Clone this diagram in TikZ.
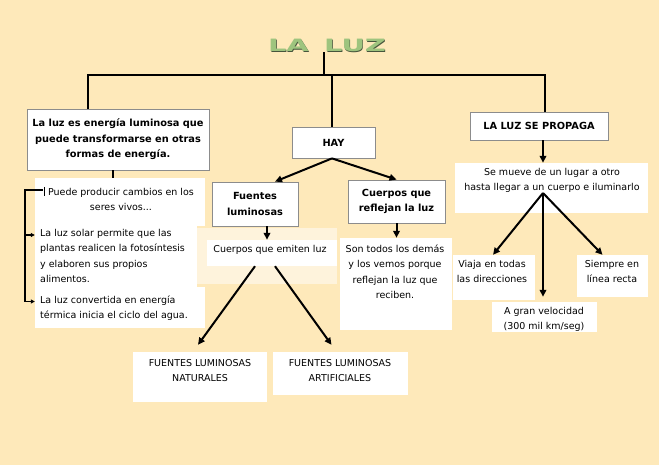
\documentclass[tikz,border=0pt]{standalone}
\usepackage{fontspec}
\setmainfont{DejaVu Sans}
\usepackage{tikz}
\usetikzlibrary{arrows.meta}
\usetikzlibrary{positioning}
\definecolor{ColBg}{RGB}{254,233,186}
\definecolor{ColCream}{RGB}{254,243,220}
\definecolor{ColBorder}{RGB}{140,140,140}
\definecolor{ColTitle}{RGB}{158,196,126}
\definecolor{ColTitleDark}{RGB}{70,85,60}
\tikzstyle{TitleGraph}=[inner sep=0pt,font=\fontsize{17}{17}\selectfont\bfseries,xscale=1.7,transform shape]
\tikzstyle{BoxGraph}=[draw=ColBorder,fill=white,line width=.8pt,inner sep=0pt,
font=\fontsize{9.8}{15.5}\selectfont\bfseries,align=center]
\tikzstyle{WhiteGraph}=[fill=white,inner sep=0pt]
\tikzstyle{TextGraph}=[inner sep=0pt,font=\fontsize{9.5}{15.5}\selectfont,align=center,anchor=base]
\tikzstyle{EdgeGraph}=[line width=2pt]
\tikzstyle{ArrowGraph}=[EdgeGraph,-{Triangle[length=7pt,width=6.5pt]}]
\tikzstyle{BracketGraph}=[line width=1.3pt,-{Triangle[length=4pt,width=4pt]}]
\begin{document}
\begin{tikzpicture}[x=1pt,y=-1pt]
        \fill[ColBg](0,0)rectangle(659,465);
        \useasboundingbox(0,0)rectangle(659,465);
        \fill[ColCream](197,228)rectangle(337,284);
        % title
        \node[TitleGraph,text=ColTitleDark](titleb)at(327.7,46.2){LA\hspace{9pt}LUZ};
        \node[TitleGraph,text=ColTitle](title)at(327,45.5){LA\hspace{9pt}LUZ};
        % boxes
        \node[BoxGraph,minimum width=182pt,minimum height=61pt](lbox)at(118,139.5){La luz es energía luminosa que\\puede transformarse en otras\\formas de energía.};
        \node[BoxGraph,minimum width=83pt,minimum height=31pt](hay)at(333.5,142.5){HAY};
        \node[BoxGraph,minimum width=86pt,minimum height=44pt](fue)at(255,204){Fuentes\\luminosas};
        \node[BoxGraph,minimum width=97pt,minimum height=43pt](cue)at(396.5,201.5){Cuerpos que\\reflejan la luz};
        \node[BoxGraph,minimum width=138pt,minimum height=28pt](prop)at(539,126){LA LUZ SE PROPAGA};
        % white boxes
        \node[WhiteGraph,minimum width=170pt,minimum height=48pt](puede)at(120,202){};
        \node[WhiteGraph,minimum width=162pt,minimum height=62pt](solar)at(116,257){};
        \node[WhiteGraph,minimum width=170pt,minimum height=41pt](conv)at(120,307.5){};
        \node[WhiteGraph,minimum width=130pt,minimum height=26pt](emi)at(272,253){};
        \node[WhiteGraph,minimum width=112pt,minimum height=92pt](dem)at(396,284){};
        \node[WhiteGraph,minimum width=134pt,minimum height=50pt](nat)at(200,377){};
        \node[WhiteGraph,minimum width=135pt,minimum height=43pt](art)at(340.5,373.5){};
        \node[WhiteGraph,minimum width=193pt,minimum height=50pt](mue)at(551.5,188){};
        \node[WhiteGraph,minimum width=82pt,minimum height=45pt](via)at(494,277.5){};
        \node[WhiteGraph,minimum width=105pt,minimum height=30pt](vel)at(544.5,317){};
        \node[WhiteGraph,minimum width=71pt,minimum height=42pt](sie)at(612.5,276){};
        % texts (base = last line)
        \node[TextGraph](tpuede)at(121,211){Puede producir cambios en los\\seres vivos...};
        \node[TextGraph,align=left,anchor=base west](tsolar)at(40,283){La luz solar permite que las\\plantas realicen la fotosíntesis\\y elaboren sus propios\\alimentos.};
        \node[TextGraph,align=left,anchor=base west](tconv)at(40,319){La luz convertida en energía\\térmica inicia el ciclo del agua.};
        \node[TextGraph](temi)at(270,252.5){Cuerpos que emiten luz};
        \node[TextGraph](tdem)at(395,298.5){Son todos los demás\\y los vemos porque\\reflejan la luz que\\reciben.};
        \node[TextGraph](tnat)at(200,381.5){FUENTES LUMINOSAS\\NATURALES};
        \node[TextGraph](tart)at(340,381.5){FUENTES LUMINOSAS\\ARTIFICIALES};
        \node[TextGraph,font=\fontsize{9.5}{14.5}\selectfont](tmue)at(552,190.5){Se mueve de un lugar a otro\\hasta llegar a un cuerpo e iluminarlo};
        \node[TextGraph](tvia)at(492,283){Viaja en todas\\las direcciones};
        \node[TextGraph,font=\fontsize{9.5}{15}\selectfont](tvel)at(544,329.5){A gran velocidad\\(300 mil km/seg)};
        \node[TextGraph](tsie)at(612,283){Siempre en\\línea recta};
        % lines
        \coordinate(hl)at(88,75);
        \coordinate(hr)at(545,75);
        \coordinate(tb)at(324,75);
        \coordinate(ap)at(543,193);
        \coordinate(bs)at(43,190);
        \coordinate(bk)at(25,190);
        \coordinate(sa)at([yshift=22pt]solar.west);
        \draw[EdgeGraph](hl|-lbox.north)--(hl)--(hr)--(hr|-prop.north);
        \draw[EdgeGraph](title.south-|tb)--(tb);
        \draw[EdgeGraph]([xshift=-1.5pt]hay.north)--([xshift=-1.5pt]hay.north|-hl);
        \draw[EdgeGraph]([xshift=-5pt]lbox.south)--([xshift=-5pt]lbox.south|-puede.north);
        \draw[line width=.6pt](44,187)--(44,196);
        \draw[BracketGraph](bs)--(bk)|-([yshift=6pt]conv.west);
        \draw[BracketGraph](bk|-sa)--(sa);
        \draw[ArrowGraph]([xshift=-1.5pt]hay.south)--([xshift=20pt]fue.north);
        \draw[ArrowGraph]([xshift=-1.5pt]hay.south)--(cue.north);
        \draw[ArrowGraph]([xshift=12pt]fue.south)--([xshift=12pt]fue.south|-emi.north);
        \draw[ArrowGraph](cue.south)--(cue.south|-dem.north);
        \draw[ArrowGraph]([xshift=-17pt]emi.south)--([shift={(-2pt,7pt)}]nat.north);
        \draw[ArrowGraph]([xshift=3pt]emi.south)--([shift={(-9pt,7pt)}]art.north);
        \draw[ArrowGraph]([xshift=4pt]prop.south)--([xshift=4pt]prop.south|-mue.north);
        \draw[ArrowGraph](ap)--([xshift=-1pt]via.north);
        \draw[ArrowGraph](ap)--([shift={(-1.5pt,5pt)}]vel.north);
        \draw[ArrowGraph](ap)--([xshift=-10pt]sie.north);
    \end{tikzpicture}
\end{document}
